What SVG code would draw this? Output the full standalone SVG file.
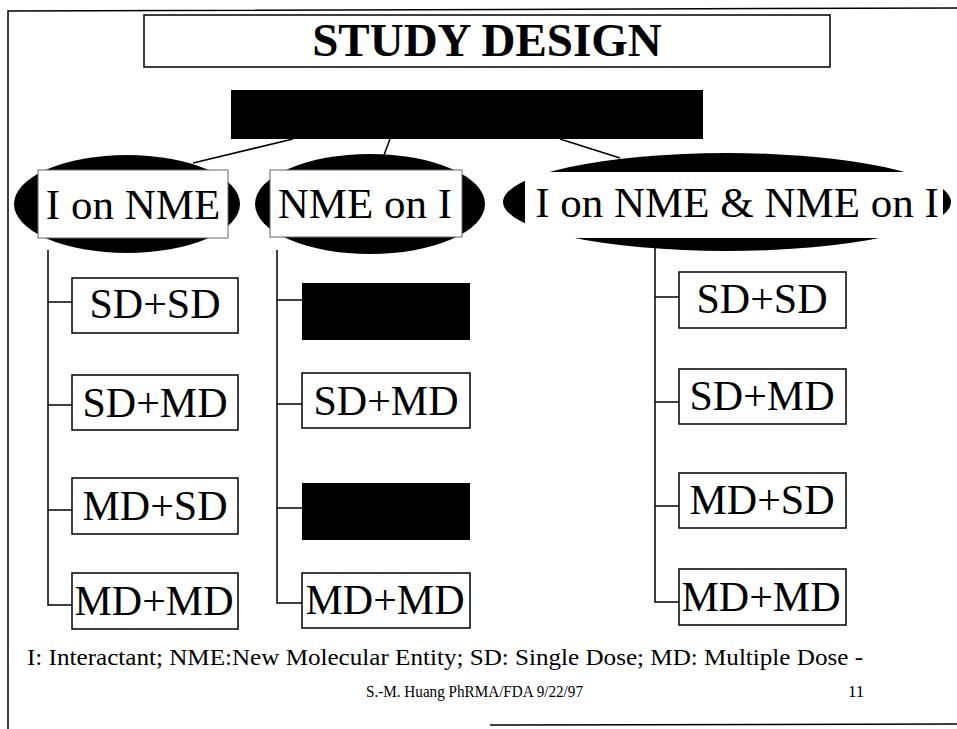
<svg xmlns="http://www.w3.org/2000/svg" width="957" height="729" viewBox="0 0 957 729">
  <style>
    .frame { fill: none; stroke: #000; stroke-width: 1.5; }
    .box { fill: #fff; stroke: #000; stroke-width: 1.5; }
    .lbl { fill: #fff; stroke: #666; stroke-width: 1; }
    .blk { fill: #000; }
    .conn { fill: none; stroke: #000; stroke-width: 1.5; }
    .serif { font-family: "Liberation Serif", "Times New Roman", serif; fill: #000; }
    .t42 { font-size: 42px; }
    .t43 { font-size: 43px; }
  </style>

  <!-- page frame -->
  <g id="frame">
    <polyline class="frame" points="8,729 8,11 957,8"/>
    <line class="frame" x1="490" y1="725" x2="957" y2="724"/>
  </g>

  <!-- title -->
  <g id="title">
    <rect class="box" x="144" y="15" width="686" height="52"/>
    <text class="serif" x="487" y="56" font-size="47" font-weight="bold" text-anchor="middle">STUDY DESIGN</text>
  </g>

  <!-- connectors -->
  <g id="connectors">
    <line class="conn" x1="293" y1="139" x2="193" y2="163"/>
    <line class="conn" x1="390" y1="139" x2="384" y2="155"/>
    <line class="conn" x1="560" y1="139" x2="620" y2="158"/>
    <!-- left column -->
    <polyline class="conn" points="48,250 48,605 72,605"/>
    <line class="conn" x1="48" y1="302" x2="72" y2="302"/>
    <line class="conn" x1="48" y1="405" x2="72" y2="405"/>
    <line class="conn" x1="48" y1="510" x2="72" y2="510"/>
    <!-- middle column -->
    <polyline class="conn" points="277,250 277,603 302,603"/>
    <line class="conn" x1="277" y1="300" x2="302" y2="300"/>
    <line class="conn" x1="277" y1="404" x2="302" y2="404"/>
    <line class="conn" x1="277" y1="508" x2="302" y2="508"/>
    <!-- right column -->
    <polyline class="conn" points="655,248 655,602 679,602"/>
    <line class="conn" x1="655" y1="297" x2="679" y2="297"/>
    <line class="conn" x1="655" y1="402" x2="679" y2="402"/>
    <line class="conn" x1="655" y1="506" x2="679" y2="506"/>
  </g>

  <!-- root node (filled) -->
  <g id="root">
    <rect class="blk" x="231" y="90" width="472" height="49"/>
  </g>

  <!-- category ellipses -->
  <g id="cat-i-on-nme">
    <ellipse class="blk" cx="127" cy="204" rx="113" ry="49"/>
    <rect class="lbl" x="38" y="170" width="190" height="68"/>
    <text class="serif t43" x="133" y="219" text-anchor="middle">I on NME</text>
  </g>
  <g id="cat-nme-on-i">
    <ellipse class="blk" cx="370" cy="204" rx="115" ry="50"/>
    <rect class="lbl" x="270" y="170" width="192" height="67"/>
    <text class="serif t43" x="365" y="218" text-anchor="middle">NME on I</text>
  </g>
  <g id="cat-both">
    <ellipse class="blk" cx="727" cy="202" rx="224" ry="49"/>
    <rect fill="#fff" x="525" y="172" width="418" height="66"/>
    <text class="serif t43" x="737" y="217" text-anchor="middle">I on NME &amp; NME on I</text>
  </g>

  <!-- left column boxes -->
  <g id="l-sd-sd">
    <rect class="box" x="72" y="278" width="166" height="55"/>
    <text class="serif t42" x="155" y="318" text-anchor="middle">SD+SD</text>
  </g>
  <g id="l-sd-md">
    <rect class="box" x="72" y="375" width="166" height="55"/>
    <text class="serif t42" x="155" y="417" text-anchor="middle">SD+MD</text>
  </g>
  <g id="l-md-sd">
    <rect class="box" x="72" y="478" width="166" height="56"/>
    <text class="serif t42" x="155" y="520" text-anchor="middle">MD+SD</text>
  </g>
  <g id="l-md-md">
    <rect class="box" x="72" y="573" width="166" height="56"/>
    <text class="serif t42" x="154" y="615" text-anchor="middle">MD+MD</text>
  </g>

  <!-- middle column boxes -->
  <g id="m-1">
    <rect class="blk" x="302" y="283" width="168" height="57"/>
  </g>
  <g id="m-sd-md">
    <rect class="box" x="302" y="373" width="168" height="55"/>
    <text class="serif t42" x="386" y="415" text-anchor="middle">SD+MD</text>
  </g>
  <g id="m-3">
    <rect class="blk" x="302" y="483" width="168" height="57"/>
  </g>
  <g id="m-md-md">
    <rect class="box" x="302" y="573" width="168" height="55"/>
    <text class="serif t42" x="385" y="614" text-anchor="middle">MD+MD</text>
  </g>

  <!-- right column boxes -->
  <g id="r-sd-sd">
    <rect class="box" x="679" y="272" width="167" height="56"/>
    <text class="serif t42" x="762" y="313" text-anchor="middle">SD+SD</text>
  </g>
  <g id="r-sd-md">
    <rect class="box" x="679" y="369" width="167" height="55"/>
    <text class="serif t42" x="762" y="410" text-anchor="middle">SD+MD</text>
  </g>
  <g id="r-md-sd">
    <rect class="box" x="679" y="473" width="167" height="55"/>
    <text class="serif t42" x="762" y="514" text-anchor="middle">MD+SD</text>
  </g>
  <g id="r-md-md">
    <rect class="box" x="679" y="569" width="167" height="56"/>
    <text class="serif t42" x="761" y="611" text-anchor="middle">MD+MD</text>
  </g>

  <!-- footnotes -->
  <g id="legend">
    <text class="serif" x="27" y="665" font-size="24" textLength="836" lengthAdjust="spacingAndGlyphs">I: Interactant; NME:New Molecular Entity; SD: Single Dose; MD: Multiple Dose -</text>
    <text class="serif" x="366" y="697" font-size="17" textLength="217" lengthAdjust="spacingAndGlyphs">S.-M. Huang PhRMA/FDA 9/22/97</text>
    <text class="serif" x="848" y="697" font-size="17">11</text>
  </g>
</svg>
